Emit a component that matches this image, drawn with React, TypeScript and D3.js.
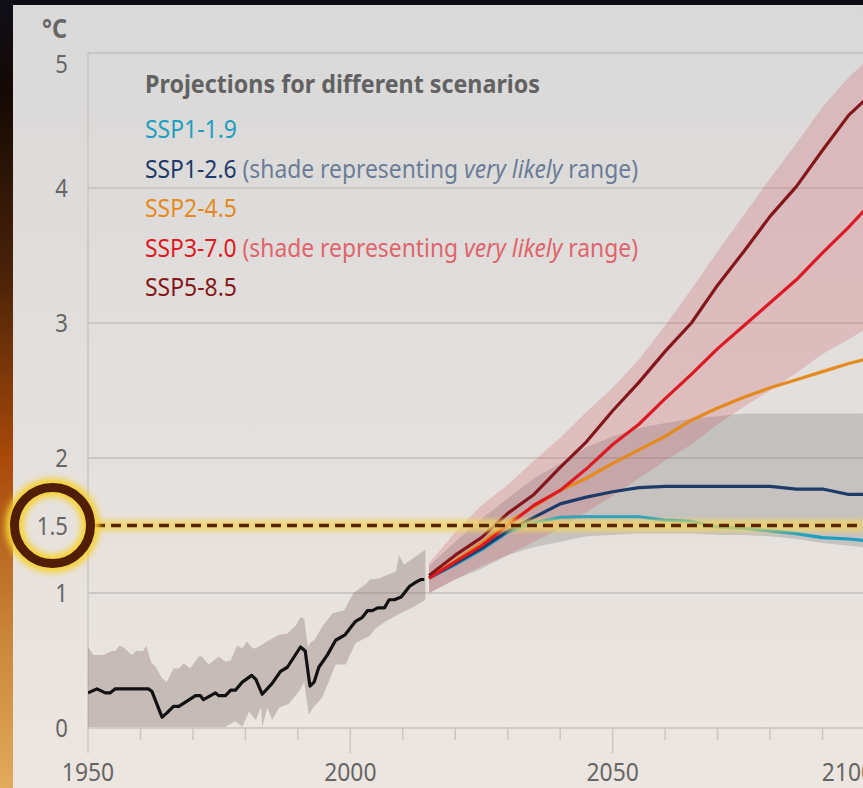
import React from 'react';
import * as d3 from 'd3';

// ---- data ----
const histYears = [1950, 1951.7, 1953.3, 1954.2, 1955.2, 1961.5, 1962.2, 1964.1, 1965, 1966.3, 1967.3, 1970.5, 1971.4, 1972, 1974.3, 1974.9, 1976.2, 1977.2, 1978.1, 1979.4, 1981.2, 1982, 1983.2, 1985.1, 1986.7, 1988, 1990.5, 1991.4, 1992.3, 1993.1, 1994, 1995.6, 1997.2, 1999, 2001, 2002.3, 2003.3, 2004.2, 2005.2, 2006.5, 2007.4, 2008.4, 2009.7, 2011.3, 2012.5, 2013.5, 2014.1];
const histMean = [0.26, 0.29, 0.26, 0.26, 0.29, 0.29, 0.27, 0.08, 0.11, 0.16, 0.16, 0.24, 0.24, 0.21, 0.26, 0.24, 0.24, 0.28, 0.28, 0.34, 0.39, 0.36, 0.25, 0.33, 0.42, 0.45, 0.6, 0.57, 0.31, 0.34, 0.45, 0.54, 0.65, 0.69, 0.79, 0.82, 0.87, 0.87, 0.89, 0.89, 0.95, 0.95, 0.97, 1.05, 1.08, 1.1, 1.1];

const histHighYears = [1950, 1951, 1953, 1954.5, 1955.2, 1956, 1957, 1958.3, 1959.2, 1960.5, 1961.1, 1962.1, 1962.8, 1964.1, 1965, 1966.3, 1967.3, 1968.2, 1969.5, 1971.1, 1971.7, 1973, 1974.9, 1976.2, 1977.2, 1978.4, 1979.4, 1980.3, 1981.3, 1982, 1984.5, 1986.4, 1988, 1989.6, 1990.5, 1991.2, 1991.9, 1992.3, 1993.1, 1994.8, 1996.6, 1998.8, 2000.6, 2003.1, 2003.7, 2005.5, 2008.7, 2009.3, 2010.2, 2014.3];
const histHigh = [0.6, 0.54, 0.54, 0.57, 0.57, 0.61, 0.59, 0.54, 0.57, 0.57, 0.61, 0.48, 0.46, 0.37, 0.34, 0.44, 0.44, 0.48, 0.44, 0.53, 0.53, 0.47, 0.53, 0.49, 0.5, 0.61, 0.59, 0.64, 0.59, 0.59, 0.65, 0.69, 0.7, 0.76, 0.82, 0.81, 0.6, 0.63, 0.65, 0.76, 0.85, 0.87, 1.0, 1.07, 1.1, 1.11, 1.16, 1.28, 1.21, 1.32];

const histLowYears = [1950, 1975.4, 1976.2, 1978.1, 1979.4, 1980.7, 1982, 1983, 1983.2, 1984.2, 1985.1, 1986.4, 1988.3, 1990.2, 1991.2, 1992.1, 1993.1, 1994.7, 1997.2, 1999.1, 2001, 2003.6, 2004.9, 2006.8, 2010, 2012.2, 2014.3];
const histLow = [-0.1, -0.02, 0.01, 0.05, 0.01, 0.12, 0.06, 0.16, 0.01, 0.15, 0.06, 0.15, 0.18, 0.27, 0.34, 0.1, 0.16, 0.23, 0.47, 0.47, 0.63, 0.68, 0.74, 0.79, 0.86, 0.9, 0.95];

const projYears = [2015, 2020, 2025, 2030, 2035, 2040, 2045, 2050, 2055, 2060, 2065, 2070, 2075, 2080, 2085, 2090, 2095, 2100];
const ssp119 = [1.11, 1.21, 1.32, 1.45, 1.52, 1.56, 1.565, 1.565, 1.565, 1.54, 1.53, 1.49, 1.48, 1.46, 1.44, 1.41, 1.4, 1.38];
const ssp126 = [1.11, 1.22, 1.33, 1.46, 1.56, 1.66, 1.71, 1.75, 1.78, 1.79, 1.79, 1.79, 1.79, 1.79, 1.77, 1.77, 1.73, 1.73];
const ssp245 = [1.11, 1.24, 1.37, 1.52, 1.64, 1.76, 1.85, 1.96, 2.06, 2.16, 2.28, 2.37, 2.45, 2.52, 2.58, 2.64, 2.7, 2.75];
const ssp370 = [1.11, 1.23, 1.35, 1.5, 1.65, 1.76, 1.92, 2.1, 2.25, 2.44, 2.62, 2.81, 2.98, 3.15, 3.32, 3.52, 3.71, 3.92];
const ssp585 = [1.13, 1.28, 1.41, 1.59, 1.73, 1.93, 2.12, 2.35, 2.56, 2.79, 3.0, 3.28, 3.53, 3.79, 4.01, 4.28, 4.54, 4.72];

const ssp126Low = [1.0, 1.1, 1.18, 1.28, 1.34, 1.38, 1.42, 1.43, 1.44, 1.44, 1.44, 1.43, 1.43, 1.42, 1.4, 1.37, 1.35, 1.33];
const ssp126High = [1.2, 1.38, 1.55, 1.7, 1.85, 1.96, 2.08, 2.16, 2.22, 2.26, 2.29, 2.31, 2.33, 2.33, 2.33, 2.33, 2.33, 2.33];
const ssp370Low = [1.0, 1.1, 1.2, 1.28, 1.38, 1.48, 1.6, 1.72, 1.85, 1.98, 2.1, 2.25, 2.38, 2.5, 2.63, 2.77, 2.88, 3.0];
const ssp370High = [1.22, 1.45, 1.65, 1.8, 1.98, 2.15, 2.34, 2.52, 2.73, 2.98, 3.25, 3.53, 3.8, 4.07, 4.33, 4.6, 4.82, 5.0];

const scenarioNames = ['SSP1-1.9', 'SSP1-2.6', 'SSP2-4.5', 'SSP3-7.0', 'SSP5-8.5'];
const scenarioSeries = [ssp119, ssp126, ssp245, ssp370, ssp585];
const shadedNames = ['SSP1-2.6', 'SSP3-7.0'];

const yTicks = [0, 1, 1.5, 2, 3, 4, 5];
const gridValues = [1, 2, 3, 4, 5];
const xLabels = [1950, 2000, 2050, 2100];
const xMinor = d3.range(1960, 2100, 10);
const threshold = 1.5;

const lineColor: Record<string, string> = {
  'SSP1-1.9': '#1e9fc0',
  'SSP1-2.6': '#1d3a68',
  'SSP2-4.5': '#e48a1e',
  'SSP3-7.0': '#dc1a24',
  'SSP5-8.5': '#85171a',
};
const noteColor: Record<string, string> = {
  'SSP1-2.6': '#6b7d96',
  'SSP3-7.0': '#e0646c',
};

const W = 863;
const H = 788;
const font = '"Noto Sans", "DejaVu Sans", sans-serif';

export default function App() {
  const x = d3.scaleLinear([1950, 2100], [88, 875]);
  const y = d3.scaleLinear([0, 5], [728, 53]);

  const line = d3.line<[number, number]>().x(d => x(d[0])).y(d => y(d[1]));
  const zip = (xs: number[], ys: number[]) => xs.map((v, i) => [v, ys[i]] as [number, number]);

  const band = (xs: number[], lo: number[], hi: number[]) =>
    d3.area<number>().x((_, i) => x(xs[i])).y0((_, i) => y(lo[i])).y1((_, i) => y(hi[i]))(xs) || '';

  // historical band has different break points top and bottom
  const histBand =
    'M' + histHighYears.map((yr, i) => `${x(yr)},${y(histHigh[i])}`).join('L') +
    'L' + histLowYears.slice().reverse().map((yr, i) => `${x(yr)},${y(histLow[histLow.length - 1 - i])}`).join('L') + 'Z';

  const y15 = y(threshold);
  // last label sits left of its tick in the original
  const xTickLabel = (yr: number) => (yr === 2100 ? x(yr) - 27 : x(yr));

  return (
    <div>
      <style>{'body{margin:0}'}</style>
      <svg width={W} height={H} style={{ display: 'block', fontFamily: font }}>
        <defs>
          <linearGradient id="panel" x1="0" y1="0" x2="0" y2="1">
            <stop offset="0" stopColor="#d9d9d9" />
            <stop offset="0.5" stopColor="#e3dfdc" />
            <stop offset="1" stopColor="#ede6e0" />
          </linearGradient>
          <linearGradient id="strip" x1="0" y1="0" x2="0" y2="1">
            <stop offset="0" stopColor="#0f0e17" />
            <stop offset="0.12" stopColor="#140904" />
            <stop offset="0.35" stopColor="#4a2308" />
            <stop offset="0.58" stopColor="#a9490a" />
            <stop offset="0.8" stopColor="#c98438" />
            <stop offset="1" stopColor="#e2aa5c" />
          </linearGradient>
          <filter id="glow" x="-50%" y="-50%" width="200%" height="200%">
            <feGaussianBlur stdDeviation="3" />
          </filter>
          <filter id="glowLine" filterUnits="userSpaceOnUse" x={0} y={y15 - 30} width={W} height={60}>
            <feGaussianBlur stdDeviation="2" />
          </filter>
          <clipPath id="plot">
            <rect x={88} y={53} width={W - 88} height={728 - 53} />
          </clipPath>
        </defs>

        <rect x={0} y={0} width={W} height={H} fill="#0e0d15" />
        <rect x={0} y={0} width={13} height={H} fill="url(#strip)" />
        <rect x={13} y={5} width={W - 13} height={H - 5} fill="url(#panel)" />

        {/* grid */}
        {gridValues.map(v => (
          <line key={v} x1={88} x2={W} y1={y(v)} y2={y(v)} stroke="#c3bfbc" strokeWidth={1.5} />
        ))}
        <line x1={88} x2={88} y1={y(5)} y2={y(0)} stroke="#c8c4c1" strokeWidth={1.5} />

        {/* legend */}
        <g fill="#666">
          <text x={145} y={93} fontSize={25} fontWeight="bold" fill="#626262" textLength={395} lengthAdjust="spacingAndGlyphs">
            Projections for different scenarios
          </text>
          {scenarioNames.map((name, i) => {
            const shaded = shadedNames.includes(name);
            return (
              <text
                key={name}
                x={145}
                y={138 + i * 39.6}
                fontSize={26}
                textLength={shaded ? 493 : 92}
                lengthAdjust="spacingAndGlyphs"
              >
                <tspan fill={lineColor[name]}>{name}</tspan>
                {shaded && (
                  <tspan fill={noteColor[name]}>
                    {' (shade representing '}
                    <tspan fontStyle="italic">very likely</tspan>
                    {' range)'}
                  </tspan>
                )}
              </text>
            );
          })}
        </g>

        {/* data */}
        <g clipPath="url(#plot)">
          <path d={histBand} fill="rgba(140,122,116,0.38)" />
          <path d={band(projYears, ssp126Low, ssp126High)} fill="rgba(130,130,130,0.32)" />
          <path d={band(projYears, ssp370Low, ssp370High)} fill="rgba(205,70,80,0.22)" />
          <path d={line(zip(histYears, histMean)) || ''} fill="none" stroke="#111" strokeWidth={3.2} strokeLinejoin="round" />
          {scenarioNames.map((name, i) => (
            <path
              key={name}
              d={line(zip(projYears, scenarioSeries[i])) || ''}
              fill="none"
              stroke={lineColor[name]}
              strokeWidth={3.2}
              strokeLinejoin="round"
            />
          ))}
        </g>

        {/* x axis */}
        <line x1={88} x2={W} y1={y(0)} y2={y(0)} stroke="#d2ccc7" strokeWidth={2} />
        {xMinor.map(yr => (
          <line key={yr} x1={x(yr)} x2={x(yr)} y1={y(0)} y2={y(0) + (yr % 50 === 0 ? 25 : 12)} stroke="#ccc6c1" strokeWidth={1.5} />
        ))}
        <line x1={x(1950)} x2={x(1950)} y1={y(0)} y2={y(0) + 25} stroke="#ccc6c1" strokeWidth={1.5} />
        {xLabels.map(yr => (
          <text
            key={yr}
            transform={`translate(${xTickLabel(yr)},${781}) scale(0.88,1)`}
            textAnchor="middle"
            fontSize={26}
            fill="#666"
          >
            {yr}
          </text>
        ))}

        {/* y axis */}
        <text transform={`translate(67,38) scale(0.9,1)`} textAnchor="end" fontSize={26} fill="#666" fontWeight="bold">
          °C
        </text>
        {yTicks.map(v => (
          <text
            key={v}
            transform={`translate(68,${(v === 5 ? y(v) + 11 : y(v)) + 9}) scale(0.85,1)`}
            textAnchor="end"
            fontSize={26}
            fill="#666"
          >
            {v}
          </text>
        ))}

        {/* 1.5 degree threshold */}
        <line x1={95} x2={W} y1={y15} y2={y15} stroke="#f1d65e" strokeWidth={12} opacity={0.75} filter="url(#glowLine)" />
        <line x1={95} x2={W} y1={y15} y2={y15} stroke="#5a2405" strokeWidth={3.5} strokeDasharray="10 6" />
        <circle cx={52.5} cy={y15} r={38} fill="none" stroke="#f7d230" strokeWidth={18} filter="url(#glow)" />
        <circle cx={52.5} cy={y15} r={38} fill="none" stroke="#4f1e04" strokeWidth={9} />
      </svg>
    </div>
  );
}
